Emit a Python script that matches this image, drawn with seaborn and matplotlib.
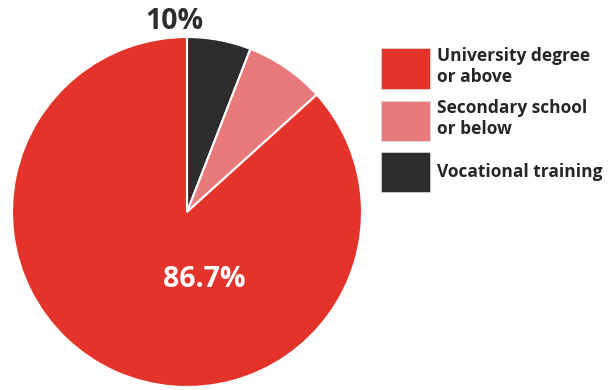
import matplotlib
matplotlib.use("Agg")
import matplotlib.pyplot as plt
import matplotlib.patches as mpatches
import seaborn as sns

# Datos (orden de la leyenda)
categories = ["University degree\nor above", "Secondary school\nor below", "Vocational training"]
shares = [86.7, 7.4, 5.9]
colors = ["#E3332A", "#E87A7B", "#2D2D2D"]
value_labels = ["86.7%", "", "10%"]

sns.set_theme(style="white")
plt.rcParams["font.family"] = ["Open Sans", "DejaVu Sans"]

fig = plt.figure(figsize=(6.14, 3.9), dpi=100)
ax = fig.add_axes([12 / 614, 3 / 390, 350 / 614, 350 / 390])

# Pie: empieza arriba, sentido horario, primero el segmento oscuro
order = [2, 1, 0]
wedges, _ = ax.pie([shares[i] for i in order], colors=[colors[i] for i in order],
                   startangle=90, counterclock=False, radius=1,
                   wedgeprops=dict(edgecolor="white", linewidth=1.5))
ax.set_xlim(-1, 1)
ax.set_ylim(-1, 1)
ax.set_aspect("equal")
ax.axis("off")

ax.text(0.10, -0.385, value_labels[0], color="white", fontsize=20.5, fontweight="bold",
        ha="center", va="center")
ax.text(-0.074, 1.09, value_labels[2], color="#2D2D2D", fontsize=20.5, fontweight="bold",
        ha="center", va="center", clip_on=False)

handles = [mpatches.Patch(facecolor=c, edgecolor="#dddddd", linewidth=0.5) for c in colors]
fig.legend(handles, categories, loc="upper left", bbox_to_anchor=(381 / 614, 1 - 47 / 390),
           frameon=False, prop=dict(family=["Open Sans", "DejaVu Sans"], weight="bold", size=12.5),
           handlelength=2.85, handleheight=3.2, labelspacing=0.62, handletextpad=0.4,
           borderaxespad=0, borderpad=0)

fig.savefig("out.png", dpi=100)
